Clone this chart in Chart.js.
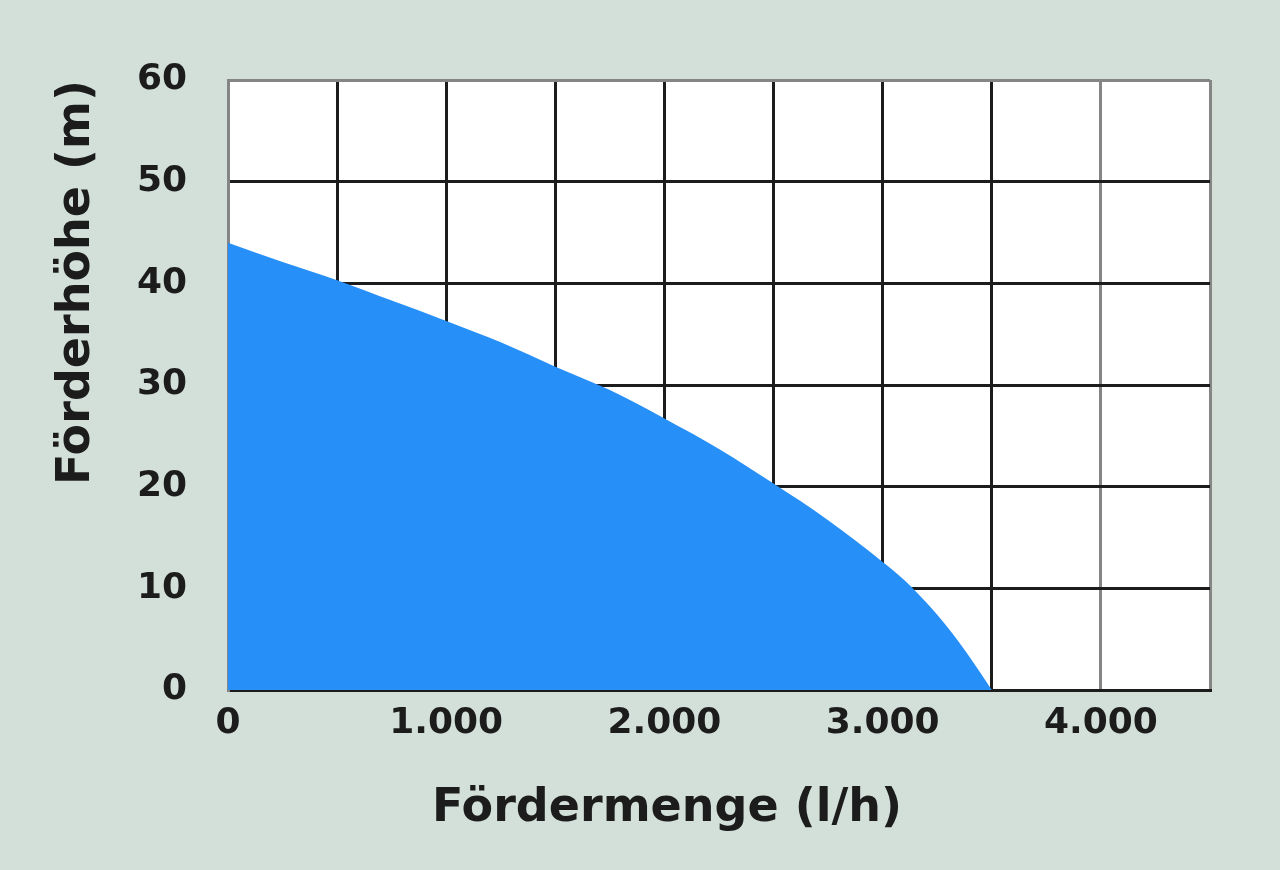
<!DOCTYPE html>
<html>
<head>
<meta charset="utf-8">
<script src="https://cdn.jsdelivr.net/npm/chart.js@4"></script>
<style>
  html, body { margin: 0; padding: 0; background: #d3e0da; }
  #wrap { width: 1280px; height: 870px; position: relative; }
</style>
</head>
<body>
<div id="wrap"><canvas id="c"></canvas></div>
<script>
// Pump curve: Fördermenge (l/h) vs Förderhöhe (m)
const flowRates = [0, 250, 500, 750, 1000, 1250, 1500, 1750, 2000, 2250, 2500, 2750, 3000, 3100, 3200, 3300, 3400, 3500];
const heads     = [44, 42.1, 40.3, 38.3, 36.3, 34.2, 31.8, 29.5, 26.7, 23.7, 20.3, 16.7, 12.6, 10.8, 8.6, 6.1, 3.2, 0];
const xTickValues = [0, 1000, 2000, 3000, 4000];
const xTickLabels = ['0', '1.000', '2.000', '3.000', '4.000'];
const yTickValues = [0, 10, 20, 30, 40, 50, 60];
const yTickLabels = ['0', '10', '20', '30', '40', '50', '60'];
const xTitle = 'Fördermenge (l/h)';
const yTitle = 'Förderhöhe (m)';

const FONT = 'DejaVu Sans';
const DARK = '#1c1c1c';
const GRAY = '#858585';
const BLUE = '#2790f8';

const plotBg = {
  id: 'plotBg',
  beforeDraw(chart) {
    const {ctx, chartArea: a} = chart;
    ctx.save();
    ctx.fillStyle = '#d3e0da';
    ctx.fillRect(0, 0, chart.width, chart.height);
    ctx.fillStyle = '#ffffff';
    ctx.fillRect(a.left, a.top, a.right - a.left, a.bottom - a.top);
    ctx.restore();
  }
};

new Chart(document.getElementById('c'), {
  type: 'line',
  data: {
    datasets: [{
      data: flowRates.map((x, i) => ({x, y: heads[i]})),
      fill: 'origin',
      backgroundColor: BLUE,
      borderWidth: 0,
      borderColor: BLUE,
      pointRadius: 0,
      cubicInterpolationMode: 'monotone'
    }]
  },
  options: {
    responsive: true,
    maintainAspectRatio: false,
    animation: false,
    layout: { padding: { top: 80, left: 54, right: 0, bottom: 38 } },
    plugins: {
      legend: { display: false },
      tooltip: { enabled: false },
      title: {
        display: true, text: yTitle, position: 'left', align: 'end',
        color: DARK, padding: 0,
        font: { family: FONT, size: 46, weight: 'bold', lineHeight: 1 }
      },
      subtitle: {
        display: true, text: xTitle, position: 'bottom', align: 'center',
        color: DARK, padding: 0,
        font: { family: FONT, size: 46, weight: 'bold', lineHeight: 1 }
      }
    },
    scales: {
      x: {
        type: 'linear', min: 0, max: 4500, z: 1,
        grid: {
          drawTicks: false, lineWidth: 3,
          color: c => (c.tick && (c.tick.value === 0 || c.tick.value === 4000 || c.tick.value === 4500)) ? GRAY : DARK
        },
        border: { display: true, color: DARK, width: 3 },
        ticks: {
          stepSize: 500, autoSkip: false, maxRotation: 0, padding: 16, color: DARK,
          font: { family: FONT, size: 36, weight: 'bold', lineHeight: 1 },
          callback: v => { const i = xTickValues.indexOf(v); return i >= 0 ? xTickLabels[i] : ''; }
        },
        afterFit: s => { s.height = 96; }
      },
      y: {
        type: 'linear', min: 0, max: 60, z: 1,
        grid: {
          drawTicks: false, lineWidth: 3,
          color: c => (c.tick && c.tick.value === 60) ? GRAY : DARK
        },
        border: { display: true, color: GRAY, width: 3 },
        ticks: {
          stepSize: 10, padding: 41, color: DARK,
          font: { family: FONT, size: 36, weight: 'bold', lineHeight: 1 },
          callback: v => { const i = yTickValues.indexOf(v); return i >= 0 ? yTickLabels[i] : ''; }
        },
        afterFit: s => { s.width = 128; }
      },
      yRight: {
        type: 'linear', position: 'right', display: true,
        grid: { display: false }, border: { display: false }, ticks: { display: false },
        afterFit: s => { s.width = 70; }
      }
    }
  },
  plugins: [plotBg]
});
</script>
</body>
</html>
